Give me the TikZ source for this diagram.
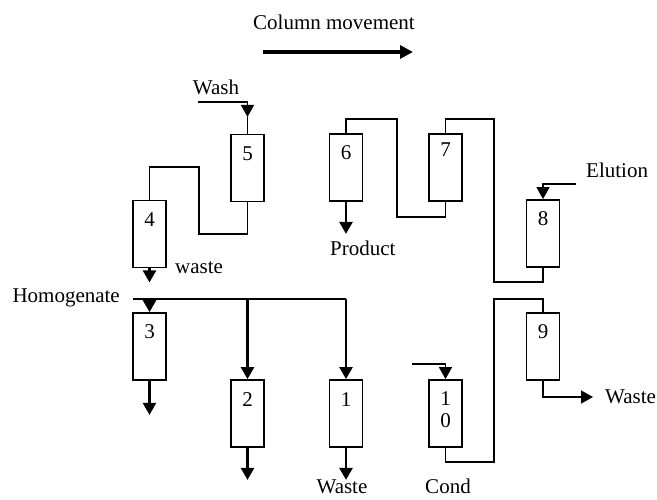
\documentclass[tikz,border=0pt]{standalone}
\usepackage{fontspec}
\setmainfont{Liberation Serif}
\usetikzlibrary{arrows.meta}
\begin{document}
\begin{tikzpicture}[x=1pt,y=-1pt,
  font=\fontsize{21pt}{23pt}\selectfont,
  colbox/.style={draw, line width=1.8pt, rectangle, minimum width=33pt, minimum height=67pt, inner sep=0pt},
  pipe/.style={line width=1.5pt},
  feed/.style={line width=2.5pt},
  tip/.style={-{Triangle[length=12pt,width=13pt]}},
  txt/.style={inner sep=0pt},
  num/.style={label={[anchor=center,yshift=-20pt]north:#1}}
]
\useasboundingbox (0,0) rectangle (657,500);

% columns
\node[colbox,num=5] (c5) at (247.5,168) {};
\node[colbox,num=4] (c4) at (149.5,234) {};
\node[colbox,num=3] (c3) at (149.5,346.5) {};
\node[colbox,num=2] (c2) at (247.5,413.5) {};
\node[colbox,num=1] (c1) at (346,413.5) {};
\node[colbox,label={[anchor=center,yshift=-31pt,align=center,font=\fontsize{21pt}{22pt}\selectfont]north:1\\0}] (c10) at (445.5,413.5) {};
\node[colbox,num=9] (c9) at (543,346.5) {};
\node[colbox,num=8] (c8) at (543,233.5) {};
\node[colbox,label={[anchor=center,yshift=-17pt]north:7}] (c7) at (445.5,167.5) {};
\node[colbox,num=6] (c6) at (346,167.5) {};

% texts
\node[txt] (tcm) at (334,22) {Column movement};
\node[txt] (twash) at (216,87) {Wash};
\node[txt,anchor=west] (twaste4) at (175,268) {waste};
\node[txt,anchor=east] (thom) at (120,298) {Homogenate};
\node[txt,anchor=base] (twaste1) at (342,493) {Waste};
\node[txt,anchor=base] (tcond) at (448,493) {Cond};
\node[txt,anchor=west] (twaste9) at (605,397) {Waste};
\node[txt,anchor=west] (telu) at (586,170) {Elution};
\node[txt,anchor=west] (tprod) at (330,248) {Product};

% column movement arrow
\coordinate (cm0) at (263,52);
\coordinate (cm1) at (413,52);
\draw[line width=3.5pt,-{Triangle[length=13pt,width=13pt]}] (cm0) -- (cm1);

% wash
\coordinate (w0) at (198,102);
\coordinate (w1) at (247.5,117);
\draw[pipe,tip] (w0) -| (w1);
\draw[pipe] (w1) -- (c5.north);

% 4 -> 5
\coordinate (a1) at (199,167);
\coordinate (a2) at (199,234);
\draw[pipe] (c4.north) |- (a1) -- (a2) -| (c5.south);

% waste from 4
\draw[feed,tip] (c4.south) -- ++(0,14);

% homogenate
\coordinate (h0) at (133,299);
\coordinate (h1) at (346,299);
\coordinate (h3) at (149.5,299);
\coordinate (h2) at (247.5,299);
\draw[feed] (h0) -- (h1);
\draw[feed,tip] (h3) -- (c3.north);
\draw[feed,tip] (h2) -- (c2.north);
\draw[feed,tip] (h1) -- (c1.north);

% outlets
\draw[feed,tip] (c3.south) -- ++(0,34);
\draw[feed,tip] (c2.south) -- ++(0,32);
\draw[feed,tip] (c1.south) -- ++(0,32);

% cond
\coordinate (k0) at (412,364);
\draw[pipe,tip] (k0) -| (c10.north);

% 10 -> 9
\coordinate (b1) at (494,462);
\coordinate (b2) at (494,299);
\draw[pipe] (c10.south) |- (b1) -- (b2) -| (c9.north);

% waste from 9
\coordinate (wt9) at (593,397);
\draw[pipe,tip] (c9.south) |- (wt9);

% elution
\coordinate (e0) at (576,184);
\draw[pipe,tip] (e0) -| (c8.north);

% 8 -> 7
\coordinate (d1) at (494,282);
\coordinate (d2) at (494,119);
\draw[pipe] (c8.south) |- (d1) -- (d2) -| (c7.north);

% 7 -> 6
\coordinate (f1) at (397,217);
\coordinate (f2) at (397,119);
\draw[pipe] (c7.south) |- (f1) -- (f2) -| (c6.north);

% product
\draw[feed,tip] (c6.south) -- ++(0,32);
\end{tikzpicture}
\end{document}
